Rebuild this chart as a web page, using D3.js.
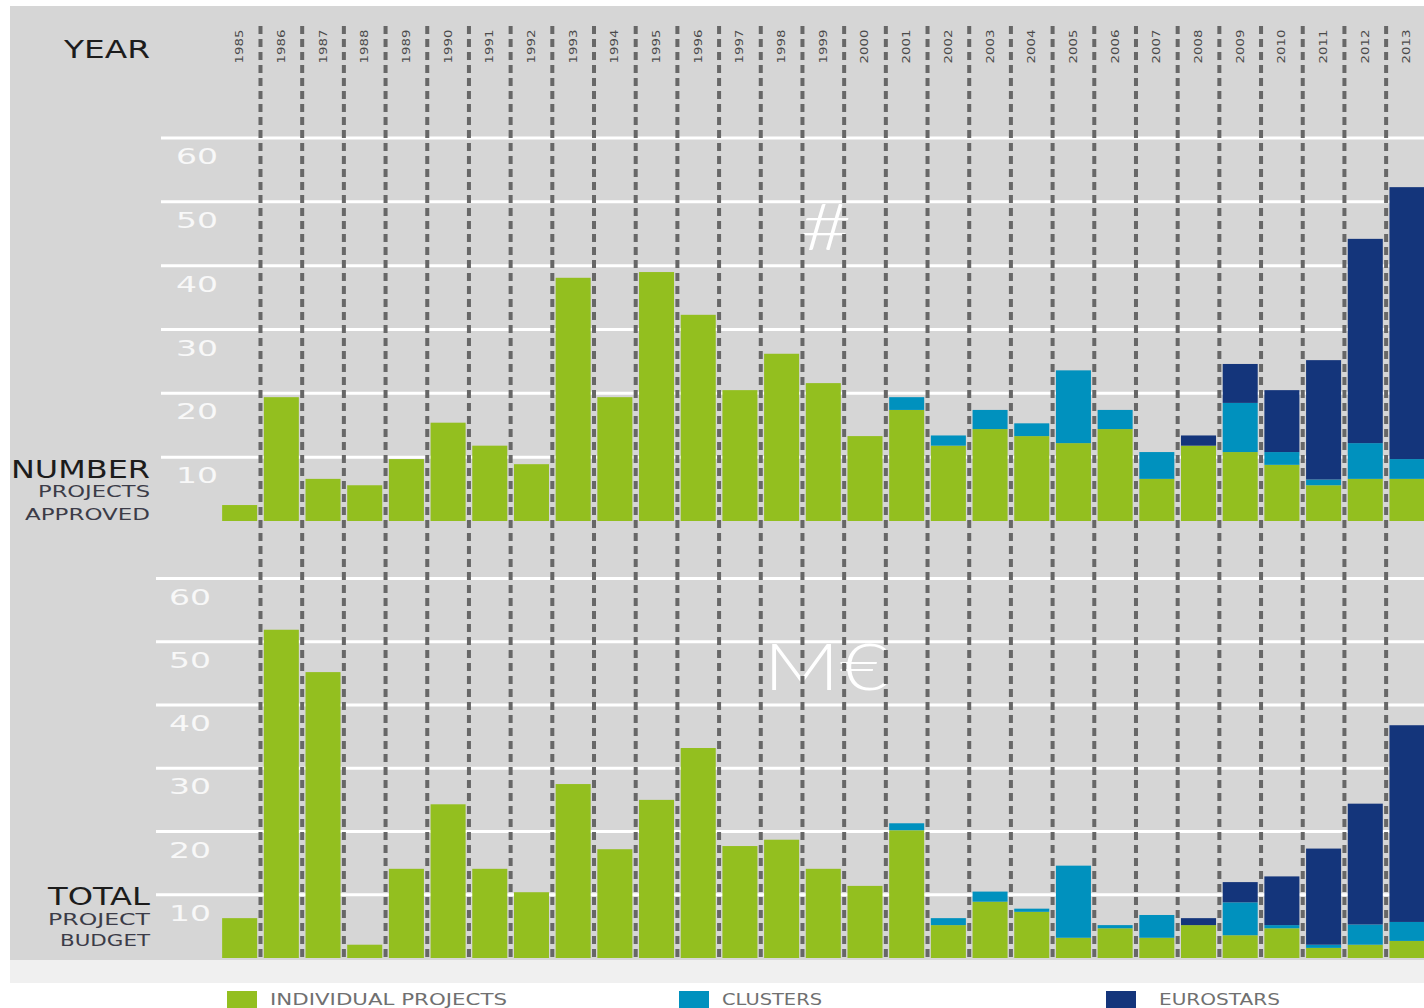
<!DOCTYPE html>
<meta charset="utf-8">
<style type="text/css">
  body { margin:0; background:#ffffff; overflow:hidden; }
  text { font-family:'DejaVu Sans', sans-serif; }
</style>
<script src="https://d3js.org/d3.v7.min.js"></script>
<body>
<div id="chart"></div>
</body>
<script>

// years on the x axis
var years = ["1985","1986","1987","1988","1989","1990","1991","1992","1993","1994",
             "1995","1996","1997","1998","1999","2000","2001","2002","2003","2004",
             "2005","2006","2007","2008","2009","2010","2011","2012","2013"]

// number of projects approved
var projIndividual = [2.5,19.4,6.6,5.6,9.7,15.4,11.8,8.9,38.1,19.4,39.0,32.3,20.5,26.2,21.6,13.3,
                      17.4,11.8,14.4,13.3,12.2,14.4,6.6,11.8,10.8,8.8,5.6,6.6,6.6]
var projClusters   = [0,0,0,0,0,0,0,0,0,0,0,0,0,0,0,0,
                      2.0,1.6,3.0,2.0,11.4,3.0,4.2,0,7.7,2.0,0.9,5.6,3.1]
var projEurostars  = [0,0,0,0,0,0,0,0,0,0,0,0,0,0,0,0,
                      0,0,0,0,0,0,0,1.6,6.1,9.7,18.7,32.0,42.6]

// total project budget, M€
var budgetIndividual = [6.3,51.9,45.2,2.1,14.1,24.3,14.1,10.4,27.5,17.2,25.0,33.2,17.7,18.7,14.1,11.4,
                        20.2,5.2,8.9,7.3,3.2,4.7,3.2,5.2,3.6,4.7,1.6,2.1,2.7]
var budgetClusters   = [0,0,0,0,0,0,0,0,0,0,0,0,0,0,0,0,
                        1.1,1.1,1.6,0.5,11.4,0.5,3.6,0,5.2,0.5,0.5,3.2,3.0]
var budgetEurostars  = [0,0,0,0,0,0,0,0,0,0,0,0,0,0,0,0,
                        0,0,0,0,0,0,0,1.1,3.2,7.7,15.2,19.1,31.1]

var gridTicks = [10,20,30,40,50,60]
var seriesNames = ["INDIVIDUAL PROJECTS","CLUSTERS","EUROSTARS"]
var keys = ["individual","clusters","eurostars"]

var width = 1424
    height = 1008

var color = d3.scaleOrdinal().domain(keys).range(["#93bf1f","#0091be","#14357b"])

var svg = d3.select("#chart")
  .append("svg")
    .attr("width", width)
    .attr("height", height)

// panels background
svg.append("rect").attr("x",0).attr("y",0).attr("width",width).attr("height",height).attr("fill","#ffffff")
svg.append("rect").attr("x",10).attr("y",6).attr("width",width-10).attr("height",954).attr("fill","#d6d6d6")
svg.append("rect").attr("x",10).attr("y",960).attr("width",width-10).attr("height",23).attr("fill","#f0f0f0")

var x = d3.scaleBand()
    .domain(years)
    .range([218.8, 218.8 + years.length*41.69])
    .paddingInner(0.16)
    .paddingOuter(0.08)

var yTop = d3.scaleLinear().domain([0,60]).range([521,138])
var yBot = d3.scaleLinear().domain([0,60]).range([958,578.5])

function rows(a,b,c){
  return years.map(function(d,i){
    return {year:d, individual:a[i], clusters:b[i], eurostars:c[i]}
  })
}

var stack = d3.stack().keys(keys)

function panel(y, data, gridX, labelX, symbol, symbolY, symbolLen){

  // white gridlines + tick labels
  svg.append("g").selectAll("line")
    .data(gridTicks)
    .enter()
    .append("line")
    .attr("x1", gridX)
    .attr("x2", width)
    .attr("y1", function(d){ return y(d) })
    .attr("y2", function(d){ return y(d) })
    .attr("stroke","#ffffff")
    .attr("stroke-width",3)

  svg.append("g").selectAll("text")
    .data(gridTicks)
    .enter()
    .append("text")
    .attr("x", labelX)
    .attr("y", function(d){ return y(d) + 26 })
    .attr("font-size", 22)
    .attr("fill","#f8f8f8")
    .attr("textLength", 42)
    .attr("lengthAdjust","spacingAndGlyphs")
    .text(function(d){ return d })

  svg.append("text")
    .attr("x", 826)
    .attr("y", symbolY)
    .attr("text-anchor","middle")
    .attr("font-size", 66)
    .attr("font-weight", 300)
    .style("font-family","Lato, 'Open Sans', sans-serif")
    .attr("fill","#ffffff")
    .attr("textLength", symbolLen)
    .attr("lengthAdjust","spacingAndGlyphs")
    .text(symbol)

  svg.append("g").selectAll("g")
    .data(stack(data))
    .enter()
    .append("g")
    .attr("fill", function(d){ return color(d.key) })
    .selectAll("rect")
    .data(function(d){ return d })
    .enter()
    .append("rect")
    .attr("x", function(d){ return x(d.data.year) })
    .attr("width", x.bandwidth())
    .attr("y", function(d){ return y(d[1]) })
    .attr("height", function(d){ return y(d[0]) - y(d[1]) })
}

panel(yTop, rows(projIndividual, projClusters, projEurostars), 161, 176, "#", 250, 52)
panel(yBot, rows(budgetIndividual, budgetClusters, budgetEurostars), 156, 169, "M€", 690, 125)

// year labels
svg.append("g").selectAll("text")
  .data(years)
  .enter()
  .append("text")
  .attr("transform", function(d){
    return "translate(" + (x(d) + x.bandwidth()/2) + ",46.5) rotate(-90)"
  })
  .attr("text-anchor","middle")
  .attr("dominant-baseline","central")
  .attr("font-size", 11)
  .attr("fill","#4a4a4a")
  .attr("textLength", 34)
  .attr("lengthAdjust","spacingAndGlyphs")
  .text(function(d){ return d })

// dashed separators between the years, on top of the bars
svg.append("g").selectAll("line")
  .data(years.slice(1))
  .enter()
  .append("line")
  .attr("x1", function(d){ return x(d) + x.bandwidth()/2 - x.step()/2 })
  .attr("x2", function(d){ return x(d) + x.bandwidth()/2 - x.step()/2 })
  .attr("y1", 26)
  .attr("y2", 960)
  .attr("stroke","#676767")
  .attr("stroke-width",4)
  .attr("stroke-dasharray","8,5")

// left hand titles
var titles = [
  {t:"YEAR", x:64, y:58, s:25, w:86, c:"#1c1c1c"},
  {t:"NUMBER", x:11, y:478, s:25, w:139, c:"#1c1c1c"},
  {t:"PROJECTS", x:38, y:497, s:15, w:112, c:"#3c3c48"},
  {t:"APPROVED", x:25, y:520, s:15, w:125, c:"#3c3c48"},
  {t:"TOTAL", x:48, y:905, s:25, w:102, c:"#1c1c1c"},
  {t:"PROJECT", x:48, y:925, s:15, w:102, c:"#3c3c48"},
  {t:"BUDGET", x:60, y:946, s:15, w:90, c:"#3c3c48"}
]

svg.append("g").selectAll("text")
  .data(titles)
  .enter()
  .append("text")
  .attr("x", function(d){ return d.x })
  .attr("y", function(d){ return d.y })
  .attr("font-size", function(d){ return d.s })
  .attr("fill", function(d){ return d.c })
  .attr("textLength", function(d){ return d.w })
  .attr("lengthAdjust","spacingAndGlyphs")
  .text(function(d){ return d.t })

// legend
var legendX = [227, 679, 1106]
var legendW = [237, 100, 121]

var legend = svg.append("g").selectAll("g")
  .data(keys)
  .enter()
  .append("g")

legend.append("rect")
  .attr("x", function(d,i){ return legendX[i] })
  .attr("y", 991)
  .attr("width", 30)
  .attr("height", 30)
  .attr("fill", function(d){ return color(d) })

legend.append("text")
  .attr("x", function(d,i){ return legendX[i] + (i==2 ? 53 : 43) })
  .attr("y", 1005)
  .attr("font-size", 15)
  .attr("fill", "#707070")
  .attr("textLength", function(d,i){ return legendW[i] })
  .attr("lengthAdjust","spacingAndGlyphs")
  .text(function(d,i){ return seriesNames[i] })

</script>
